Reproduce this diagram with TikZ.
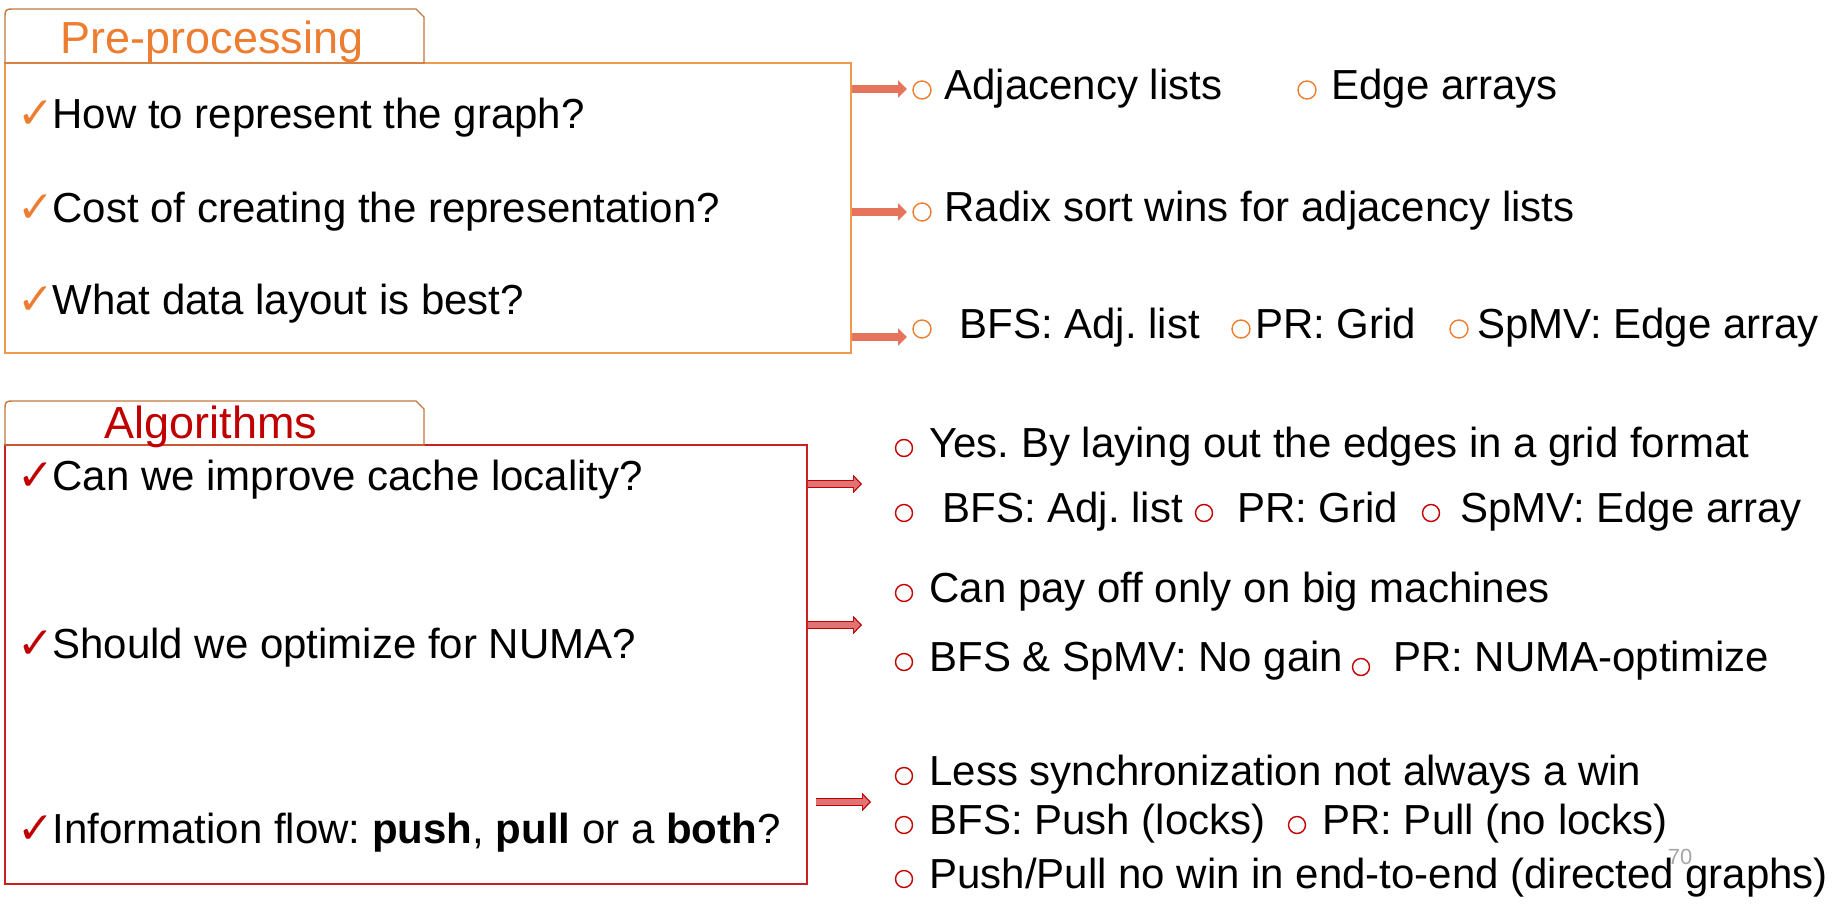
\documentclass[tikz,border=0pt]{standalone}
\usepackage{fontspec}
\setmainfont{Liberation Sans}
\newfontfamily\symfont{DejaVu Sans}
\usepackage{tikz}
\usetikzlibrary{arrows.meta}
\definecolor{preorange}{HTML}{ED7D31}
\definecolor{tabbrown}{HTML}{C5773E}
\definecolor{boxorange}{HTML}{F09A50}
\definecolor{algred}{HTML}{C00000}
\definecolor{boxred}{HTML}{CC1F1F}
\definecolor{arroworange}{HTML}{E6735C}
\definecolor{arrowred}{HTML}{E07474}
\definecolor{pagegray}{HTML}{A6A6A6}
\newcommand{\chk}[1]{{\symfont\fontsize{25}{25}\selectfont\textcolor{#1}{✓}}\hspace{-1pt}}
\frenchspacing

\begin{document}
\begin{tikzpicture}[x=0.02cm,y=-0.02cm,
    txt/.style={anchor=base west,inner sep=0pt,font=\fontsize{23.9}{28}\selectfont},
    tabtxt/.style={anchor=base,inner sep=0pt,font=\fontsize{25.6}{30}\selectfont},
    obul/.style={circle,draw=preorange,line width=0.8pt,minimum size=0.36cm,inner sep=0pt},
    rbul/.style={circle,draw=algred,line width=0.8pt,minimum size=0.34cm,inner sep=0pt},
    prebox/.style={draw=boxorange,line width=1pt,minimum width=16.92cm,minimum height=5.8cm,inner sep=0pt},
    algbox/.style={draw=boxred,line width=1pt,minimum width=16.04cm,minimum height=8.78cm,inner sep=0pt},
    oarrow/.style={draw=arroworange,line width=4.5pt,-{Triangle[length=5pt,width=9.5pt]}},
    rarrow/.style={draw=algred,line width=4.6pt,-{Triangle[length=5pt,width=10.2pt]},
      postaction={draw=arrowred,line width=3.2pt,shorten >=1pt,-{Triangle[length=3.6pt,width=7.4pt]}}}]
    \useasboundingbox (0,0) rectangle (1843,913);
    % Pre-processing box and tab
    \node[prebox] (pre) at (428,208) {};
    \draw[tabbrown,line width=0.8pt] (5,63) -- (5,19) .. controls (5,9) .. (15,9) -- (416,9) -- (424,17) -- (424,63) -- cycle;
    \node[tabtxt,text=preorange] (pretab) at (212,53) {Pre-processing};
    % Pre-processing questions
    \node[txt] (pq1) at (17,128) {\chk{preorange}How to represent the graph?};
    \node[txt] (pq2) at (17,222) {\chk{preorange}Cost of creating the representation?};
    \node[txt] (pq3) at (17,314) {\chk{preorange}What data layout is best?};
    % Pre-processing answers
    \node[obul] (ob1) at (922,90) {};
    \node[txt] (ot1) at (944,99) {Adjacency lists};
    \node[obul] (ob2) at (1307,90) {};
    \node[txt] (ot2) at (1331,99) {Edge arrays};
    \node[obul] (ob3) at (922,212) {};
    \node[txt] (ot3) at (944,221) {Radix sort wins for adjacency lists};
    \node[obul] (ob4) at (922,329) {};
    \node[txt] (ot4) at (959,338) {BFS: Adj. list};
    \node[obul] (ob5) at (1241,329) {};
    \node[txt] (ot5) at (1255,338) {PR: Grid};
    \node[obul] (ob6) at (1459,329) {};
    \node[txt] (ot6) at (1477,338) {SpMV: Edge array};
    % Arrows to the answers
    \coordinate (oa1) at (907,89);
    \coordinate (oa2) at (907,212);
    \coordinate (oa3) at (907,337);
    \draw[oarrow] (pre.east |- oa1) -- (oa1);
    \draw[oarrow] (pre.east |- oa2) -- (oa2);
    \draw[oarrow] (pre.east |- oa3) -- (oa3);
    % Algorithms box and tab
    \node[algbox] (alg) at (406,664.5) {};
    \draw[tabbrown,line width=0.8pt] (5,445) -- (5,411) .. controls (5,401) .. (15,401) -- (416,401) -- (424,409) -- (424,445) -- cycle;
    \node[tabtxt,text=algred] (algtab) at (211,438) {Algorithms};
    % Algorithm questions
    \node[txt] (aq1) at (17,490) {\chk{algred}Can we improve cache locality?};
    \node[txt] (aq2) at (17,658) {\chk{algred}Should we optimize for NUMA?};
    \node[txt] (aq3) at (17,843) {\chk{algred}Information flow: \textbf{push}, \textbf{pull} or a \textbf{both}?};
    % Algorithm answers
    \node[rbul] (rb1) at (904,448) {};
    \node[txt] (rt1) at (929,457) {Yes. By laying out the edges in a grid format};
    \node[rbul] (rb2) at (904,513) {};
    \node[txt] (rt2) at (942,522) {BFS: Adj. list};
    \node[rbul] (rb3) at (1204,513) {};
    \node[txt] (rt3) at (1237,522) {PR: Grid};
    \node[rbul] (rb4) at (1431,513) {};
    \node[txt] (rt4) at (1460,522) {SpMV: Edge array};
    \node[rbul] (rb5) at (904,593) {};
    \node[txt] (rt5) at (929,602) {Can pay off only on big machines};
    \node[rbul] (rb6) at (904,662) {};
    \node[txt] (rt6) at (929,671) {BFS \& SpMV: No gain};
    \node[rbul] (rb7) at (1361,667) {};
    \node[txt] (rt7) at (1393,671) {PR: NUMA-optimize};
    \node[rbul] (rb8) at (904,776) {};
    \node[txt] (rt8) at (929,785) {Less synchronization not always a win};
    \node[rbul] (rb9) at (904,825) {};
    \node[txt] (rt9) at (929,834) {BFS: Push (locks)};
    \node[rbul] (rb10) at (1297,825) {};
    \node[txt] (rt10) at (1322,834) {PR: Pull (no locks)};
    \node[rbul] (rb11) at (904,879) {};
    \node[txt] (rt11) at (929,888) {Push/Pull no win in end-to-end (directed graphs)};
    % Arrows to the answers
    \coordinate (ra1) at (862,484);
    \coordinate (ra2) at (862,625);
    \coordinate (rs3) at (816,802);
    \coordinate (ra3) at (871,802);
    \draw[rarrow] (alg.east |- ra1) -- (ra1);
    \draw[rarrow] (alg.east |- ra2) -- (ra2);
    \draw[rarrow] (rs3) -- (ra3);
    % Page number
    \node[anchor=base,inner sep=0pt,text=pagegray,font=\fontsize{12.5}{14}\selectfont] (page) at (1680,864) {70};
\end{tikzpicture}
\end{document}
